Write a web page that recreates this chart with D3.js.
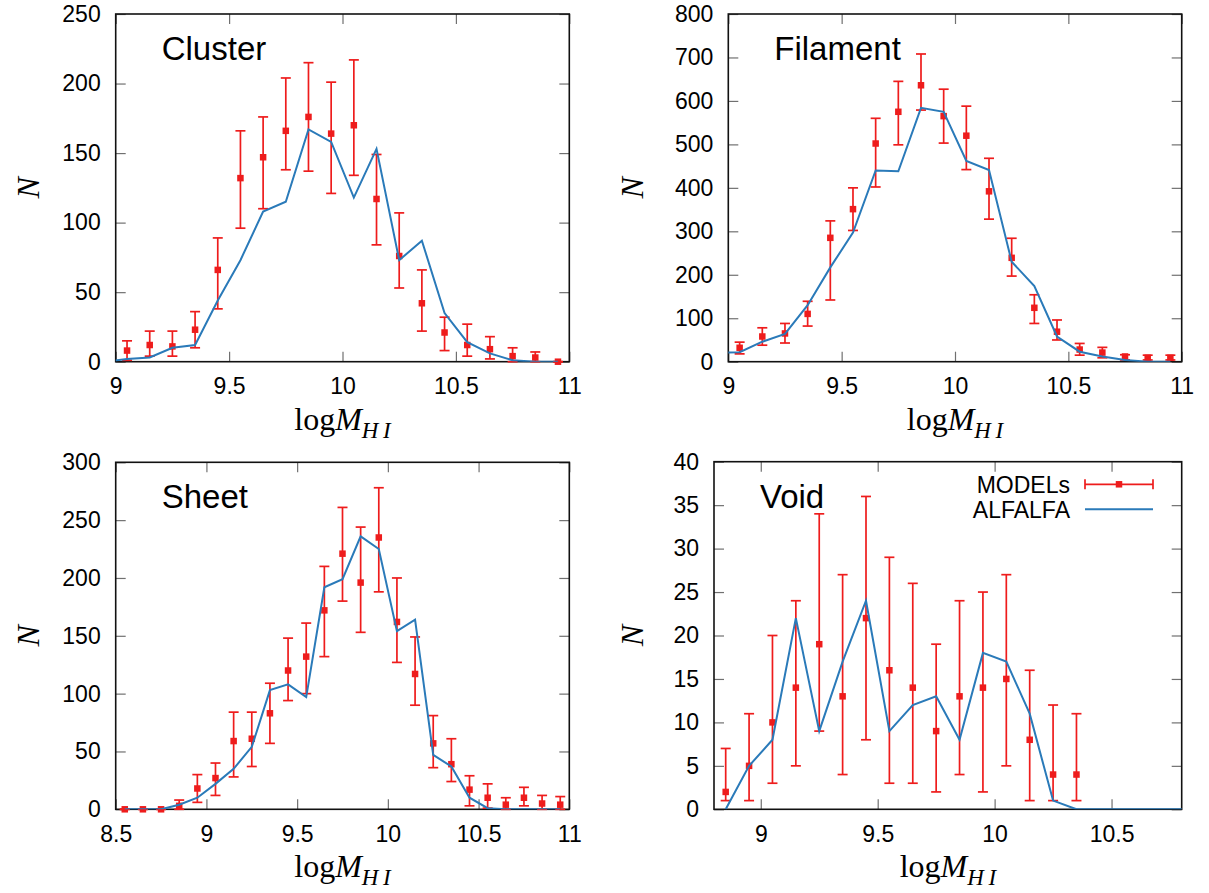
<!DOCTYPE html>
<html>
<head>
<meta charset="utf-8">
<script src="https://cdn.jsdelivr.net/npm/d3@7"></script>
<style>
  html, body { margin: 0; padding: 0; background: #fff; }
  svg { display: block; }
</style>
</head>
<body>
<svg id="chart" width="1209" height="893"></svg>
<script>
// ---------- Data: HI mass function counts per environment ----------

// Cluster
const clusterBins   = [9.05, 9.15, 9.25, 9.35, 9.45, 9.55, 9.65, 9.75, 9.85, 9.95,
                       10.05, 10.15, 10.25, 10.35, 10.45, 10.55, 10.65, 10.75, 10.85, 10.95];
const clusterModel  = [8, 12, 11, 23, 66, 132, 147, 166, 176, 164, 170, 117, 76, 42, 21, 12, 9, 4, 3, 0];
const clusterLow    = [1, 4, 4, 10, 38, 96, 110, 138, 137, 121, 134, 84, 53, 22, 8, 4, 2, 0, 0, 0];
const clusterHigh   = [15, 22, 22, 36, 89, 166, 176, 204, 215, 201, 217, 149, 107, 66, 32, 27, 18, 10, 7, 0];
const clusterAlfBins = [8.95, 9.05, 9.15, 9.25, 9.35, 9.45, 9.55, 9.65, 9.75, 9.85, 9.95,
                        10.05, 10.15, 10.25, 10.35, 10.45, 10.55, 10.65, 10.75, 10.85, 10.95];
const clusterAlfalfa = [0, 2, 3, 10, 12, 44, 73, 108, 115, 167, 158, 118, 153, 73, 87, 35, 14, 6, 1, 0, 0];

// Filament
const filamentBins  = [9.05, 9.15, 9.25, 9.35, 9.45, 9.55, 9.65, 9.75, 9.85, 9.95,
                       10.05, 10.15, 10.25, 10.35, 10.45, 10.55, 10.65, 10.75, 10.85, 10.95];
const filamentModel = [32, 58, 65, 110, 285, 351, 502, 575, 636, 565, 520, 392, 239, 124, 69, 28, 21, 12, 9, 9];
const filamentLow   = [18, 38, 43, 82, 142, 302, 402, 499, 579, 503, 442, 328, 197, 88, 50, 15, 9, 4, 4, 4];
const filamentHigh  = [45, 78, 88, 139, 324, 400, 560, 645, 708, 627, 588, 468, 284, 154, 96, 42, 33, 16, 15, 15];
const filamentAlfBins = [8.95, 9.05, 9.15, 9.25, 9.35, 9.45, 9.55, 9.65, 9.75, 9.85, 9.95,
                         10.05, 10.15, 10.25, 10.35, 10.45, 10.55, 10.65, 10.75, 10.85, 10.95];
const filamentAlfalfa = [20, 22, 46, 64, 130, 217, 297, 440, 438, 584, 575, 462, 441, 230, 174, 58, 23, 12, 4, 0, 0];

// Sheet
const sheetBins   = [8.55, 8.65, 8.75, 8.85, 8.95, 9.05, 9.15, 9.25, 9.35, 9.45, 9.55, 9.65, 9.75,
                     9.85, 9.95, 10.05, 10.15, 10.25, 10.35, 10.45, 10.55, 10.65, 10.75, 10.85, 10.95];
const sheetModel  = [0, 0, 0, 3, 18, 27, 59, 61, 83, 120, 132, 172, 221, 196, 235, 162, 117, 57, 39, 17, 10, 4, 10, 5, 4];
const sheetLow    = [0, 0, 0, 0, 6, 12, 28, 37, 57, 94, 100, 132, 180, 153, 188, 127, 90, 36, 24, 3, 1, 0, 3, 0, 0];
const sheetHigh   = [0, 0, 0, 8, 30, 40, 84, 84, 109, 148, 161, 210, 261, 244, 278, 200, 149, 81, 61, 29, 22, 10, 19, 12, 11];
const sheetAlfBins = sheetBins;
const sheetAlfalfa = [0, 0, 0, 4, 10, 22, 35, 54, 103, 108, 97, 192, 199, 236, 225, 154, 164, 47, 37, 10, 1, 0, 0, 0, 0];

// Void
const voidBins   = [8.85, 8.95, 9.05, 9.15, 9.25, 9.35, 9.45, 9.55, 9.65, 9.75, 9.85, 9.95, 10.05, 10.15, 10.25, 10.35];
const voidModel  = [2, 5, 10, 14, 19, 13, 22, 16, 14, 9, 13, 14, 15, 8, 4, 4];
const voidLow    = [1, 1, 3, 5, 9, 4, 8, 3, 3, 2, 4, 2, 5, 1, 1, 1];
const voidHigh   = [7, 11, 20, 24, 34, 27, 36, 29, 26, 19, 24, 25, 27, 16, 12, 11];
const voidAlfBins = [8.85, 8.95, 9.05, 9.15, 9.25, 9.35, 9.45, 9.55, 9.65, 9.75, 9.85, 9.95,
                     10.05, 10.15, 10.25, 10.35, 10.45, 10.55, 10.65, 10.75, 10.85];
const voidAlfalfa = [0, 5, 8, 22, 9, 17, 24, 9, 12, 13, 8, 18, 17, 11, 1, 0, 0, 0, 0, 0, 0];

// Tick values
const xTicksMain  = [9, 9.5, 10, 10.5, 11];
const xTicksSheet = [8.5, 9, 9.5, 10, 10.5, 11];
const xTicksVoid  = [9, 9.5, 10, 10.5];
const yTicksCluster  = [0, 50, 100, 150, 200, 250];
const yTicksFilament = [0, 100, 200, 300, 400, 500, 600, 700, 800];
const yTicksSheet    = [0, 50, 100, 150, 200, 250, 300];
const yTicksVoid     = [0, 5, 10, 15, 20, 25, 30, 35, 40];

const panelNames = ["Cluster", "Filament", "Sheet", "Void"];
const legendLabels = ["MODELs", "ALFALFA"];

// ---------- Styling ----------
const SANS = "'Liberation Sans', Arial, Helvetica, sans-serif";
const SERIF = "'Liberation Serif', 'DejaVu Serif', 'Times New Roman', serif";
const RED = "#ee1c1c";
const BLUE = "#2a7ab9";

// Panel layout (page pixels)
const panels = [
  { name: panelNames[0], left: 115.7, top: 14,    width: 453.6, height: 347.7, nx: 28,
    xDomain: [9, 11], xTicks: xTicksMain, yDomain: [0, 250], yTicks: yTicksCluster,
    bins: clusterBins, model: clusterModel, low: clusterLow, high: clusterHigh,
    aBins: clusterAlfBins, alfalfa: clusterAlfalfa },
  { name: panelNames[1], left: 728.3, top: 14,    width: 453.4, height: 347.7, nx: 632,
    xDomain: [9, 11], xTicks: xTicksMain, yDomain: [0, 800], yTicks: yTicksFilament,
    bins: filamentBins, model: filamentModel, low: filamentLow, high: filamentHigh,
    aBins: filamentAlfBins, alfalfa: filamentAlfalfa },
  { name: panelNames[2], left: 115.7, top: 462.3, width: 453.6, height: 347.0, nx: 28,
    xDomain: [8.5, 11], xTicks: xTicksSheet, yDomain: [0, 300], yTicks: yTicksSheet,
    bins: sheetBins, model: sheetModel, low: sheetLow, high: sheetHigh,
    aBins: sheetAlfBins, alfalfa: sheetAlfalfa },
  { name: panelNames[3], left: 714,   top: 461.7, width: 467.7, height: 347.6, nx: 632,
    xDomain: [8.8, 10.8], xTicks: xTicksVoid, yDomain: [0, 40], yTicks: yTicksVoid,
    bins: voidBins, model: voidModel, low: voidLow, high: voidHigh,
    aBins: voidAlfBins, alfalfa: voidAlfalfa, legend: true }
];

const svg = d3.select("#chart");
const defs = svg.append("defs");

const CAP = 5;      // half-width of error-bar caps
const SQ = 6.5;     // marker square size

panels.forEach((p, i) => {
  const g = svg.append("g").attr("transform", `translate(${p.left},${p.top})`);
  const x = d3.scaleLinear().domain(p.xDomain).range([0, p.width]);
  const y = d3.scaleLinear().domain(p.yDomain).range([p.height, 0]);

  defs.append("clipPath").attr("id", "clip" + i)
    .append("rect").attr("width", p.width).attr("height", p.height);

  // Axes with inward ticks on all four sides
  const fmt = d => String(d);
  g.append("g").attr("transform", `translate(0,${p.height})`)
    .call(d3.axisBottom(x).tickValues(p.xTicks).tickSize(-10).tickPadding(16).tickFormat(fmt));
  g.append("g")
    .call(d3.axisTop(x).tickValues(p.xTicks).tickSize(-10).tickFormat(""));
  g.append("g")
    .call(d3.axisLeft(y).tickValues(p.yTicks).tickSize(-10).tickPadding(15).tickFormat(fmt));
  g.append("g").attr("transform", `translate(${p.width},0)`)
    .call(d3.axisRight(y).tickValues(p.yTicks).tickSize(-10).tickFormat(""));

  g.selectAll(".domain").remove();
  g.selectAll(".tick line").attr("stroke", "#707070").attr("stroke-width", 1.2);
  g.selectAll(".tick text").attr("font-family", SANS).attr("font-size", 23).attr("fill", "#000");

  // Frame
  g.append("rect").attr("width", p.width).attr("height", p.height)
    .attr("fill", "none").attr("stroke", "#111").attr("stroke-width", 1.6);

  // Model points with error bars
  const pts = p.bins.map((b, k) => ({ b, v: p.model[k], lo: p.low[k], hi: p.high[k] }));
  const eb = g.append("g").attr("stroke", RED).attr("stroke-width", 1.7).attr("fill", "none");
  pts.forEach(d => {
    const cx = x(d.b);
    eb.append("line").attr("x1", cx).attr("x2", cx).attr("y1", y(d.lo)).attr("y2", y(d.hi));
    eb.append("line").attr("x1", cx - CAP).attr("x2", cx + CAP).attr("y1", y(d.lo)).attr("y2", y(d.lo));
    eb.append("line").attr("x1", cx - CAP).attr("x2", cx + CAP).attr("y1", y(d.hi)).attr("y2", y(d.hi));
  });
  g.append("g").selectAll("rect").data(pts).join("rect")
    .attr("x", d => x(d.b) - SQ / 2).attr("y", d => y(d.v) - SQ / 2)
    .attr("width", SQ).attr("height", SQ).attr("fill", RED);

  // ALFALFA line
  const lineData = p.aBins.map((b, k) => [b, p.alfalfa[k]]);
  g.append("path").datum(lineData)
    .attr("clip-path", `url(#clip${i})`)
    .attr("fill", "none").attr("stroke", BLUE).attr("stroke-width", 2)
    .attr("stroke-linejoin", "miter")
    .attr("d", d3.line().x(d => x(d[0])).y(d => y(d[1])));

  // Panel name
  g.append("text").attr("x", 46).attr("y", 46)
    .attr("font-family", SANS).attr("font-size", 33).attr("fill", "#000")
    .text(p.name);

  // Y label
  svg.append("text")
    .attr("transform", `translate(${p.nx},${p.top + p.height / 2}) rotate(-90)`)
    .attr("text-anchor", "middle").attr("dominant-baseline", "central")
    .attr("font-family", SERIF).attr("font-style", "italic").attr("font-size", 32)
    .text("N");

  // X label: log M_{HI}
  const xl = svg.append("text")
    .attr("x", p.left + p.width / 2).attr("y", p.top + p.height + 68)
    .attr("text-anchor", "middle")
    .attr("font-family", SERIF).attr("font-size", 32).attr("fill", "#000");
  xl.append("tspan").text("log");
  xl.append("tspan").attr("font-style", "italic").text("M");
  xl.append("tspan").attr("font-style", "italic").attr("font-size", 23).attr("dy", 8).text("H\u2009I");

  // Legend
  if (p.legend) {
    const lg = svg.append("g");
    const tx = 1070, x1 = 1085, x2 = 1153;
    const rows = [{ label: legendLabels[0], y: 484.3 }, { label: legendLabels[1], y: 509.3 }];
    rows.forEach(r => {
      lg.append("text").attr("x", tx).attr("y", r.y + 8.5).attr("text-anchor", "end")
        .attr("font-family", SANS).attr("font-size", 23).attr("fill", "#000").text(r.label);
    });
    const m = lg.append("g").attr("stroke", RED).attr("stroke-width", 1.7);
    m.append("line").attr("x1", x1).attr("x2", x2).attr("y1", rows[0].y).attr("y2", rows[0].y);
    m.append("line").attr("x1", x1).attr("x2", x1).attr("y1", rows[0].y - CAP).attr("y2", rows[0].y + CAP);
    m.append("line").attr("x1", x2).attr("x2", x2).attr("y1", rows[0].y - CAP).attr("y2", rows[0].y + CAP);
    lg.append("rect").attr("x", (x1 + x2) / 2 - SQ / 2).attr("y", rows[0].y - SQ / 2)
      .attr("width", SQ).attr("height", SQ).attr("fill", RED);
    lg.append("line").attr("x1", x1).attr("x2", x2).attr("y1", rows[1].y).attr("y2", rows[1].y)
      .attr("stroke", BLUE).attr("stroke-width", 2);
  }
});
</script>
</body>
</html>
